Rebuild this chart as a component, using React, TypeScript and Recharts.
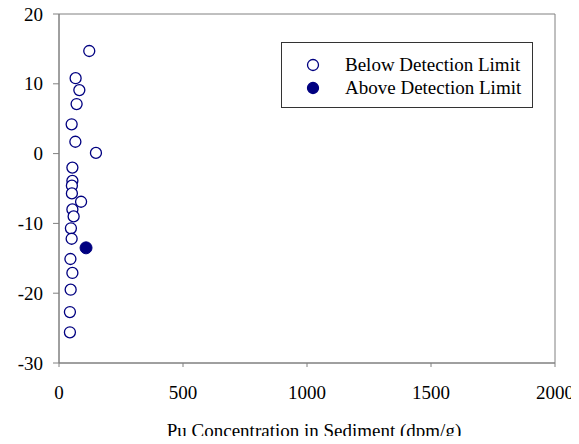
import React from 'react';
import {
    ScatterChart,
    Scatter,
    XAxis,
    YAxis,
    ReferenceArea,
    Legend,
} from 'recharts';

// values
const belowX = [122, 67, 82, 71, 51, 66, 149, 54, 54, 52, 52, 89, 54, 59, 48, 51, 46, 54, 47, 44, 44];
const belowY = [14.7, 10.8, 9.1, 7.1, 4.2, 1.7, 0.1, -2.0, -3.9, -4.6, -5.7, -6.9, -8.0, -9.0, -10.7, -12.2, -15.1, -17.1, -19.5, -22.7, -25.6];
const aboveX = [109];
const aboveY = [-13.5];

const xTicks = [0, 500, 1000, 1500, 2000];
const yTicks = [-30, -20, -10, 0, 10, 20];
const xTitle = 'Pu Concentration in Sediment (dpm/g)';

const NAVY = '#000080';
const FONT = '"Liberation Serif", "Times New Roman", serif';

const belowData = belowX.map((x, i) => ({x, y: belowY[i]}));
const aboveData = aboveX.map((x, i) => ({x, y: aboveY[i]}));

const OpenDot = (props: {cx?: number, cy?: number}) => (
    <circle cx={props.cx} cy={props.cy} r={5.5} fill="#fff" stroke={NAVY} strokeWidth={1.3} />
);
const FilledDot = (props: {cx?: number, cy?: number}) => (
    <circle cx={props.cx} cy={props.cy} r={6} fill={NAVY} stroke={NAVY} strokeWidth={1} />
);

const XTick = (props: any) => (
    <text x={props.x} y={props.y} dy={32} textAnchor="middle" fill="#000" fontSize={19} fontFamily={FONT}>
        {props.payload.value}
    </text>
);
const YTick = (props: any) => (
    <text x={props.x} y={props.y} dy="0.35em" textAnchor="end" fill="#000" fontSize={19} fontFamily={FONT}>
        {props.payload.value}
    </text>
);
const XTitle = (props: any) => {
    const vb = props.viewBox;
    return (
        <text x={vb.x + vb.width / 2 + 7} y={vb.y + 74} textAnchor="middle" fill="#000" fontSize={19} fontFamily={FONT}>
            {xTitle}
        </text>
    );
};

const LegendBox = () => (
    <div style={{
        width: 252, height: 66, boxSizing: 'border-box', border: '1px solid #333',
        background: '#fff', fontFamily: FONT, fontSize: 19, color: '#000', position: 'relative',
    }}>
        {[{name: 'Below Detection Limit', filled: false, top: 22}, {name: 'Above Detection Limit', filled: true, top: 45}].map(it => (
            <div key={it.name} style={{position: 'absolute', left: 0, top: it.top - 12, height: 24, display: 'flex', alignItems: 'center', whiteSpace: 'nowrap'}}>
                <svg width={62} height={24}>
                    <circle cx={31} cy={12} r={5.5} fill={it.filled ? NAVY : '#fff'} stroke={NAVY} strokeWidth={1.3} />
                </svg>
                <span style={{marginLeft: 1}}>{it.name}</span>
            </div>
        ))}
    </div>
);

export default function App() {
    return (
        <div style={{margin: -8, width: 579, height: 444, background: '#fff', fontFamily: FONT}}>
            <ScatterChart
                width={579}
                height={444}
                margin={{top: 14, right: 24, left: 0, bottom: 0}}
            >
                <XAxis
                    type="number"
                    dataKey="x"
                    domain={[0, 2000]}
                    ticks={xTicks}
                    height={81}
                    tickSize={4}
                    tickMargin={0}
                    stroke="#808080"
                    tick={<XTick />}
                    label={<XTitle />}
                />
                <YAxis
                    type="number"
                    dataKey="y"
                    domain={[-30, 20]}
                    ticks={yTicks}
                    width={59}
                    tickSize={6}
                    tickMargin={10}
                    stroke="#808080"
                    tick={<YTick />}
                />
                <ReferenceArea x1={0} x2={2000} y1={-30} y2={20} fill="none" stroke="#808080" strokeWidth={1} />
                <Legend
                    layout="vertical"
                    align="center"
                    verticalAlign="middle"
                    wrapperStyle={{left: 281, top: 42, width: 252, height: 66}}
                    content={() => <LegendBox />}
                />
                <Scatter name="Below Detection Limit" data={belowData} shape={<OpenDot />} isAnimationActive={false} />
                <Scatter name="Above Detection Limit" data={aboveData} shape={<FilledDot />} isAnimationActive={false} />
            </ScatterChart>
        </div>
    );
}
